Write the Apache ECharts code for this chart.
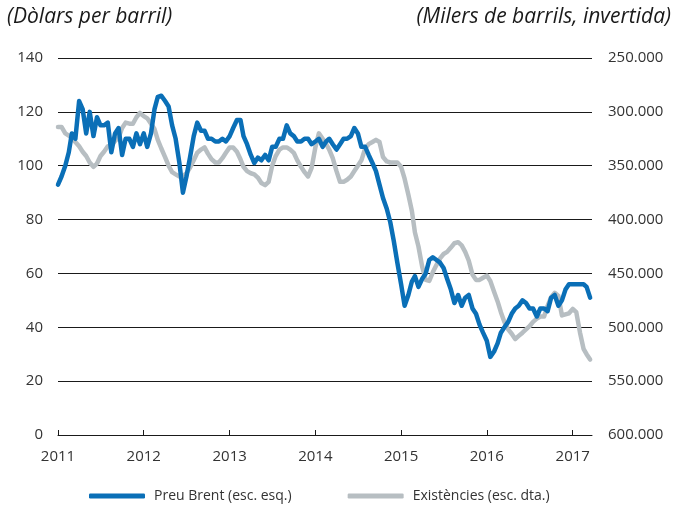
<!DOCTYPE html>
<html>
<head>
<meta charset="utf-8">
<script src="https://cdn.jsdelivr.net/npm/echarts@6/dist/echarts.min.js"></script>
<style>
  html, body { margin: 0; padding: 0; background: #fff; }
  #main { width: 684px; height: 506px; }
</style>
</head>
<body>
<div id="main"></div>
<script>
// preu del Brent (dòlars per barril), dades quinzenals
var brent = [93,96,100,105,112,110,124,121,112,120,
  111,118,115,115,116,105,112,114,104,110,
  110,107,112,108,112,107,112,121,125.6,126,
  124,122,115,110,101,90,96,103,111,116,
  113,113,110,110,109,109,110,109,111,114,
  117,117,111,108,104,101,103,102,104,102,
  107,107,110,110,115,112,111,109,109,110,
  110,108,109,110,107,109,110,108,106,108,
  110,110,111,114,112,107,107,104,101,98,
  93,88,84,79,72,64,56,48,52,57,
  59,55,58,60,65,66,65,64,62,58,
  54,49,52,48,51,52,47,45,41,38,
  35,29,31,34,38,40,42,45,47,48,
  50,49,47,47,44,47,47,46,51,52,
  48,50,54,56,56,56,56,56,55,51];

// existències (milers de barrils)
var existencies = [314000,314000,320000,322000,324000,328000,332000,337000,341000,347000,
  351000,348000,341000,337000,332000,331000,327000,324000,315000,310000,
  311000,311000,305000,301000,304000,306000,311000,316000,326000,334000,
  342000,350000,356000,358000,360000,360000,357000,352000,345000,338000,
  335000,333000,339000,344000,347000,347000,343000,338000,333000,333000,
  337000,344000,351000,355000,357000,358000,361000,366000,368000,365000,
  350000,341000,335000,333000,333000,335000,338000,345000,351000,356000,
  360000,352000,333000,320000,325000,330000,335000,343000,355000,365000,
  365000,363000,360000,355000,350000,345000,334000,330000,328000,326000,
  328000,342000,346000,347000,347000,347000,351000,362000,377000,392000,
  412000,425000,444000,456000,457000,449000,442000,436000,432000,430000,
  426000,422000,421000,424000,430000,438000,451000,456000,456000,454000,
  452000,457000,467000,476000,486000,495000,502000,506000,511000,508000,
  505000,502000,499000,495000,492000,490000,490000,480000,472000,468000,
  471000,489000,488000,487000,483000,486000,505000,520000,525000,530000];

// dates: 1 i 16 de cada mes des de gener 2011
var dates = [];
for (var i = 0; i < brent.length; i++) {
  var m = Math.floor(i / 2);
  var y = 2011 + Math.floor(m / 12);
  var mm = (m % 12) + 1;
  dates.push(y + '-' + (mm < 10 ? '0' + mm : mm) + (i % 2 === 0 ? '-01' : '-16'));
}

var xMin = '2011-01-01', xMax = '2017-03-24';
var leftTicks = [0, 140, 20];
var rightTicks = [250000, 600000, 50000];

function zip(a, b) {
  var out = [];
  for (var k = 0; k < a.length; k++) out.push([a[k], b[k]]);
  return out;
}
function punts(v) {
  return String(v).replace(/\B(?=(\d{3})+(?!\d))/g, '.');
}

var FONT = '"Open Sans", "DejaVu Sans", sans-serif';
var myChart = echarts.init(document.getElementById('main'), null, { renderer: 'canvas' });
var option = {
  backgroundColor: '#fff',
  animation: false,
  textStyle: { fontFamily: FONT },
  grid: { left: 58, right: 92, top: 58, bottom: 71, containLabel: false },
  graphic: [
    { type: 'text', left: 7, top: 7,
      style: { text: '(Dòlars per barril)', font: 'italic 21px ' + FONT, fill: '#1a1a1a' } },
    { type: 'text', right: 13, top: 7,
      style: { text: '(Milers de barrils, invertida)', font: 'italic 21px ' + FONT, fill: '#1a1a1a' } }
  ],
  legend: {
    top: 484, left: 84,
    itemWidth: 56, itemHeight: 5, itemGap: 56,
    icon: 'roundRect',
    textStyle: { fontSize: 14, color: '#333', fontFamily: FONT, padding: [0, 0, 0, 4] },
    data: ['Preu Brent (esc. esq.)', 'Existències (esc. dta.)']
  },
  xAxis: {
    type: 'time',
    min: xMin, max: xMax,
    minInterval: 365 * 24 * 3600 * 1000,
    axisLine: { lineStyle: { color: '#1a1a1a', width: 1 } },
    axisTick: { show: true, inside: true, length: 5, lineStyle: { color: '#1a1a1a' } },
    splitLine: { show: false },
    axisLabel: {
      color: '#333', fontSize: 15, fontFamily: FONT, margin: 14,
      showMaxLabel: false,
      formatter: function (v) { return String(new Date(v).getFullYear()); }
    }
  },
  yAxis: [{
    type: 'value',
    min: leftTicks[0], max: leftTicks[1], interval: leftTicks[2],
    axisLine: { show: false }, axisTick: { show: false },
    splitLine: { show: true, lineStyle: { color: '#1a1a1a', width: 1 } },
    axisLabel: { color: '#333', fontSize: 15, fontFamily: FONT, margin: 15 }
  }, {
    type: 'value',
    inverse: true,
    min: rightTicks[0], max: rightTicks[1], interval: rightTicks[2],
    axisLine: { show: false }, axisTick: { show: false },
    splitLine: { show: false },
    axisLabel: { color: '#333', fontSize: 15, fontFamily: FONT, margin: 16,
      formatter: function (v) { return punts(v); } }
  }],
  series: [{
    name: 'Existències (esc. dta.)',
    type: 'line',
    yAxisIndex: 1,
    symbol: 'none',
    color: '#b7bec2',
    lineStyle: { width: 4.5, color: '#b7bec2', cap: 'round', join: 'round' },
    data: zip(dates, existencies),
    z: 2
  }, {
    name: 'Preu Brent (esc. esq.)',
    type: 'line',
    yAxisIndex: 0,
    symbol: 'none',
    color: '#0a6fb7',
    lineStyle: { width: 4.5, color: '#0a6fb7', cap: 'round', join: 'round' },
    data: zip(dates, brent),
    z: 3
  }]
};
myChart.setOption(option);
</script>
</body>
</html>
